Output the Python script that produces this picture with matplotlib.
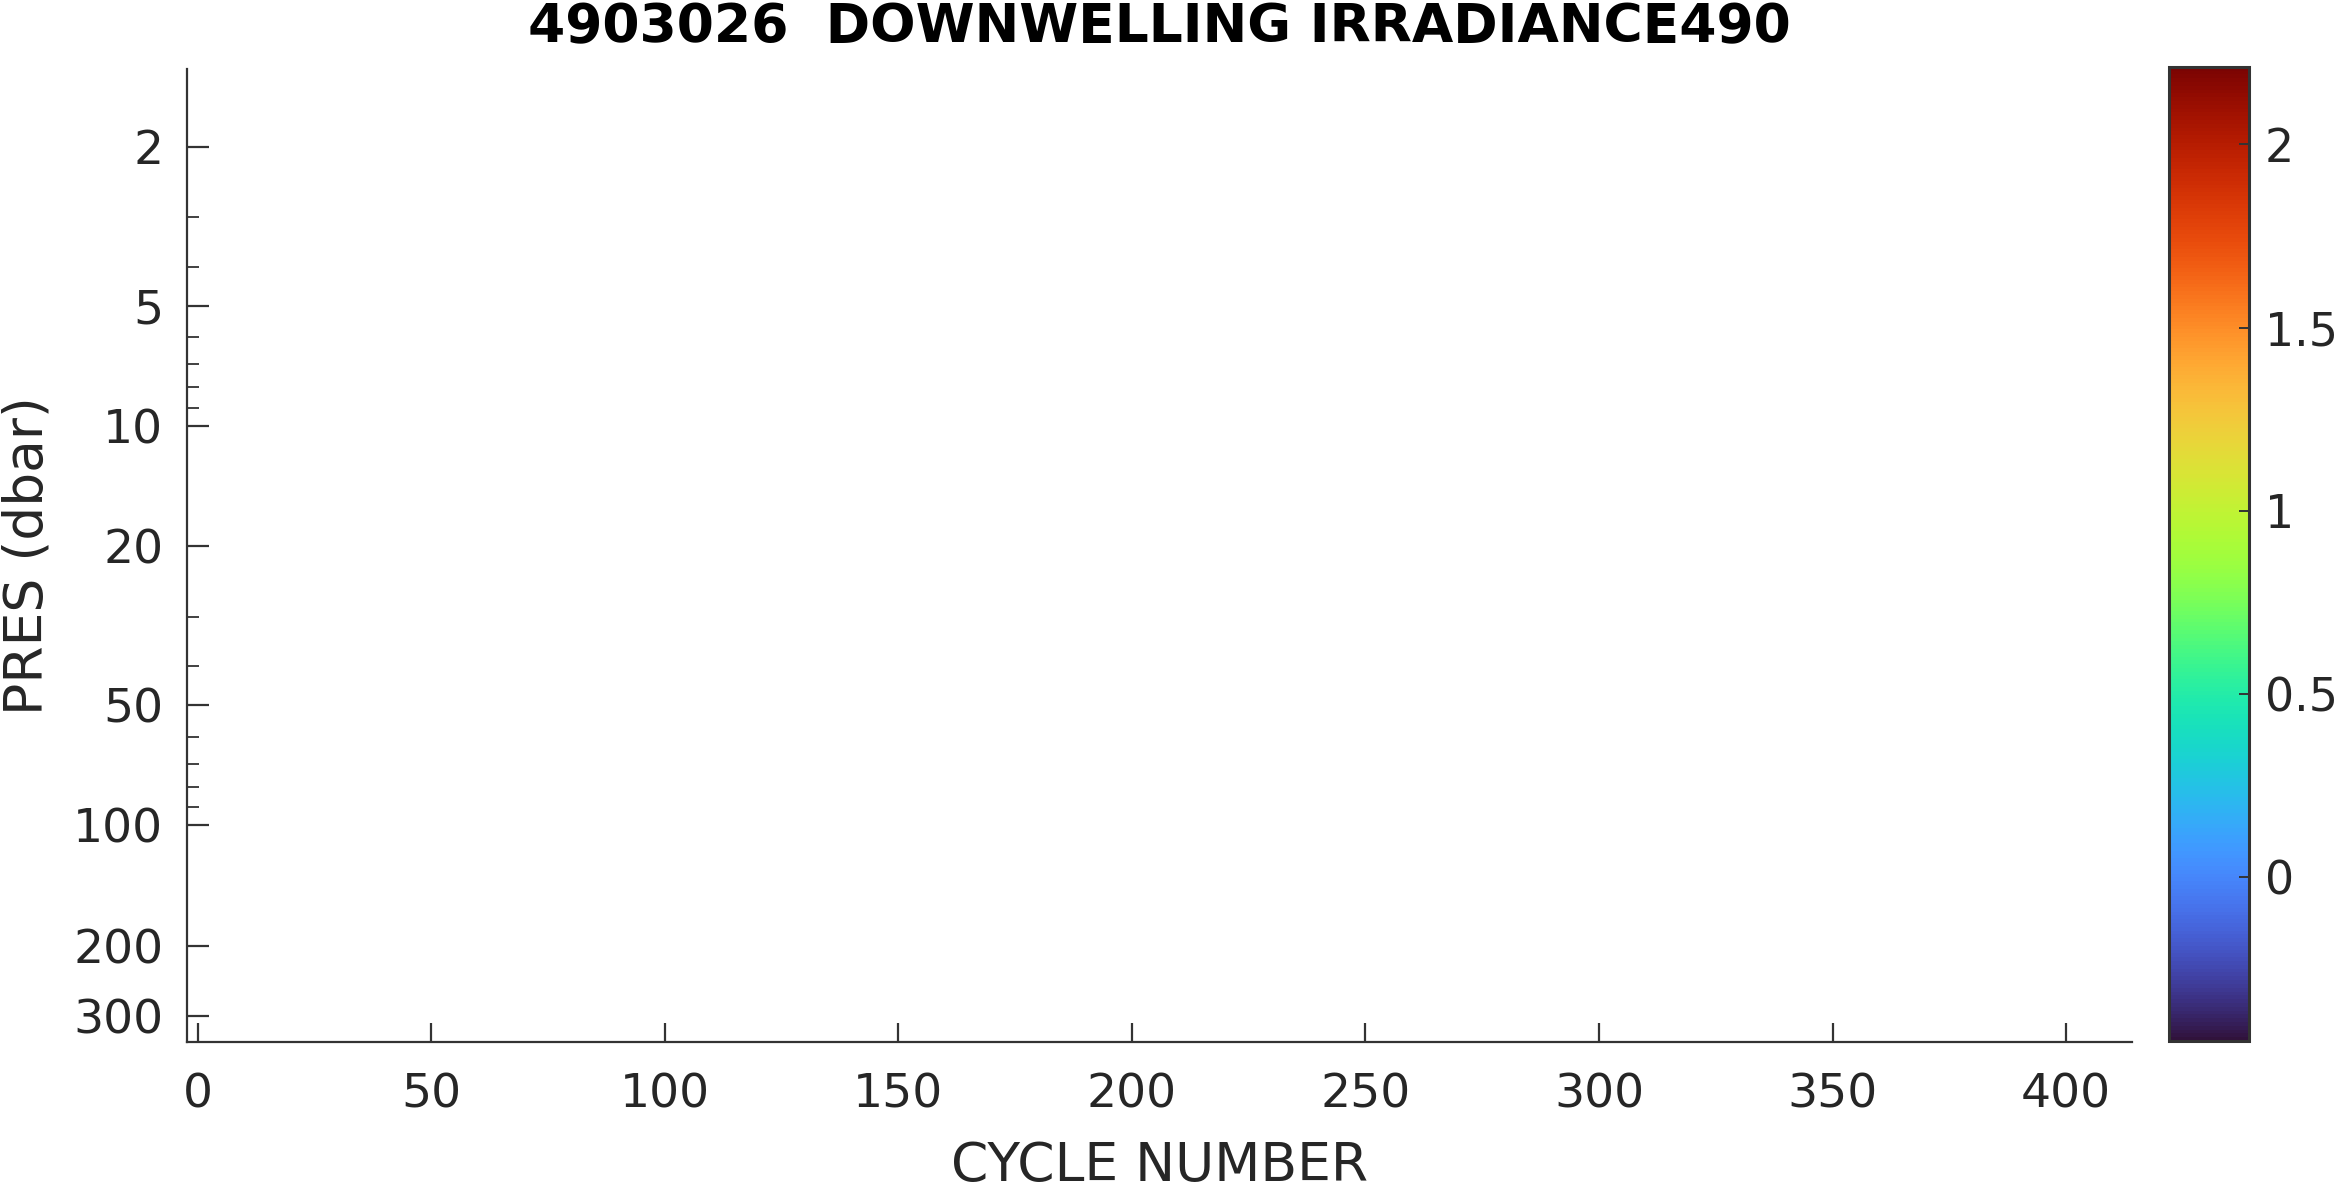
import numpy as np
import matplotlib
matplotlib.use("Agg")
import matplotlib.pyplot as plt
from matplotlib.colors import Normalize
from matplotlib.ticker import FixedLocator, NullFormatter

# ---- data (the reference shows no data points) ----
cycle_number = np.array([], dtype=float)
pressure = np.array([], dtype=float)
irradiance490 = np.array([], dtype=float)

title_text = "4903026  DOWNWELLING IRRADIANCE490"
x_label = "CYCLE NUMBER"
y_label = "PRES (dbar)"
x_ticks = [0, 50, 100, 150, 200, 250, 300, 350, 400]
y_major_ticks = [2, 5, 10, 20, 50, 100, 200, 300]
y_minor_ticks = [3, 4, 6, 7, 8, 9, 30, 40, 60, 70, 80, 90]
cbar_ticks = [0, 0.5, 1, 1.5, 2]
cbar_labels = ["0", "0.5", "1", "1.5", "2"]
x_limits = (-2.3, 414.1)
y_limits = (348.6, 1.276)
c_limits = (-0.447, 2.212)

text_color = "#262626"
spine_color = "#333333"
plt.rcParams["font.family"] = ["DejaVu Sans"]
plt.rcParams["text.color"] = text_color
plt.rcParams["axes.labelcolor"] = text_color
plt.rcParams["xtick.color"] = spine_color
plt.rcParams["ytick.color"] = spine_color
plt.rcParams["xtick.labelcolor"] = text_color
plt.rcParams["ytick.labelcolor"] = text_color

W, H = 2335, 1187
fig = plt.figure(figsize=(W / 100, H / 100), dpi=100)

ax = fig.add_axes([0.0800, 0.1222, 0.8331, 0.8197])
cax = fig.add_axes([0.9290, 0.1230, 0.0343, 0.8208])

cmap = plt.get_cmap("turbo")
norm = Normalize(vmin=c_limits[0], vmax=c_limits[1])
sc = ax.scatter(cycle_number, pressure, c=irradiance490, cmap=cmap, norm=norm, s=20)

ax.set_yscale("log")
ax.set_xlim(*x_limits)
ax.set_ylim(*y_limits)

ax.xaxis.set_major_locator(FixedLocator(x_ticks))
ax.set_xticklabels([str(t) for t in x_ticks])
ax.yaxis.set_major_locator(FixedLocator(y_major_ticks))
ax.set_yticklabels([str(t) for t in y_major_ticks])
ax.yaxis.set_minor_locator(FixedLocator(y_minor_ticks))
ax.yaxis.set_minor_formatter(NullFormatter())
ax.xaxis.set_minor_locator(FixedLocator([]))

for s in ["top", "right"]:
    ax.spines[s].set_visible(False)
for s in ["left", "bottom"]:
    ax.spines[s].set_color(spine_color)
    ax.spines[s].set_linewidth(1.6)

ax.tick_params(axis="x", which="major", direction="in", length=13.5, width=1.6,
               labelsize=34, pad=22)
ax.tick_params(axis="y", which="major", direction="in", length=15.5, width=1.6,
               labelsize=34, pad=17)
ax.tick_params(axis="y", which="minor", direction="in", length=8.5, width=1.3)

ax.set_xlabel(x_label, fontsize=38.5, labelpad=16)
ax.set_ylabel(y_label, fontsize=38.5, labelpad=14)
ax.set_title(title_text, fontsize=38.5, fontweight="bold", color="black", pad=19)

cb = fig.colorbar(sc, cax=cax)
cb.set_ticks(cbar_ticks)
cb.set_ticklabels(cbar_labels)
cb.outline.set_edgecolor(spine_color)
cb.outline.set_linewidth(2.2)
cax.tick_params(direction="in", length=7, width=1.4, labelsize=33, pad=11,
                color=spine_color)

fig.savefig("out.png", dpi=100, facecolor="white")
